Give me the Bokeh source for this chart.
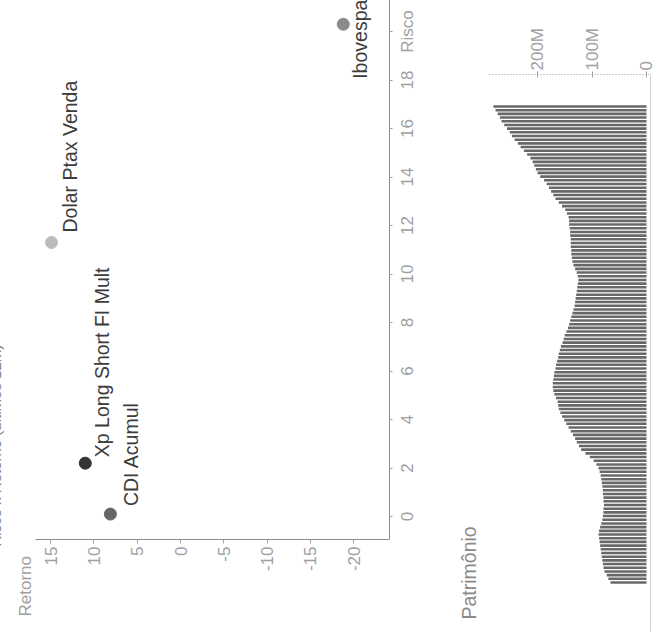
from bokeh.plotting import figure
from bokeh.models import Range1d, FixedTicker, Title, ColumnDataSource
from bokeh.embed import file_html
from bokeh.resources import INLINE
from bokeh.core.properties import value

# ---------------- data ----------------
names = ["Xp Long Short FI Mult", "CDI Acumul", "Dolar Ptax Venda", "Ibovespa"]
risco = [2.2, 0.1, 11.3, 20.3]
retorno = [11.0, 8.1, 14.9, -18.8]

risco_ticks = [0, 2, 4, 6, 8, 10, 12, 14, 16, 18, 20]
risco_tick_labels = ["0", "2", "4", "6", "8", "10", "12", "14", "16", "18", "Risco"]
retorno_ticks = [15, 10, 5, 0, -5, -10, -15, -20]
retorno_tick_labels = ["15", "10", "5", "0", "-5", "-10", "-15", "-20"]

patrimonio = [
    66, 70, 73, 77, 79, 80, 81, 82, 83, 84,
    85, 86, 87, 88, 87, 85, 83, 81, 80, 79,
    79, 78, 79, 79, 80, 80, 81, 82, 83, 84,
    86, 88, 92, 97, 104, 112, 120, 124, 128, 131,
    135, 139, 143, 147, 151, 155, 158, 161, 162, 163,
    166, 169, 171, 172, 172, 171, 170, 169, 167, 166,
    164, 162, 161, 159, 157, 154, 152, 150, 147, 144,
    142, 140, 138, 136, 134, 132, 131, 130, 129, 128,
    127, 126, 125, 126, 128, 131, 134, 136, 137, 138,
    138, 139, 139, 139, 140, 140, 141, 142, 142, 143,
    146, 149, 155, 161, 167, 171, 175, 179, 183, 188,
    195, 200, 203, 206, 209, 213, 219, 225, 231, 236,
    242, 247, 251, 256, 261, 266, 269, 273, 277, 281,
]
patr_ticks = [0, 100, 200]
patr_labels = ["0", "100M", "200M"]

# ---------------- styles ----------------
FONT = "Liberation Sans"
point_colors = ["#333333", "#666666", "#bbbbbb", "#8a8a8a"]
label_dx = [6, 8, 10, -15]
label_dy = [17, 21, 18, 17]
label_align = ["left", "left", "left", "center"]
TICK_COLOR = "#a0a0a0"
AXIS_COLOR = "#8c8c8c"


def rotated(dx):
    # the scanned page is turned a quarter turn counter-clockwise
    return {"position": "absolute", "left": "0px", "top": "0px",
            "transform-origin": "0 0",
            "transform": f"translate({dx}px, 632px) rotate(-90deg)"}


# ---------------- Risco x Retorno scatter ----------------
p1 = figure(width=640, height=640, title=None,
            x_range=Range1d(-0.948, 21.65), y_range=Range1d(-24.14, 16.75),
            output_backend="svg", toolbar_location=None,
            min_border_left=92, min_border_right=0,
            min_border_top=60, min_border_bottom=226,
            frame_align=False, styles=rotated(-25))
p1.outline_line_color = None
p1.xgrid.grid_line_color = None
p1.ygrid.grid_line_color = None
p1.border_fill_color = None
p1.background_fill_color = None

for ax in (p1.xaxis[0], p1.yaxis[0]):
    ax.axis_line_color = AXIS_COLOR
    ax.major_tick_line_color = TICK_COLOR
    ax.minor_tick_line_color = None
    ax.major_tick_in = 0
    ax.major_label_text_color = TICK_COLOR
    ax.major_label_text_font = FONT
    ax.major_label_text_font_size = "17px"

xa = p1.xaxis[0]
xa.ticker = FixedTicker(ticks=risco_ticks)
xa.major_label_overrides = dict(zip(risco_ticks, risco_tick_labels))
xa.major_tick_out = 3
xa.major_label_standoff = 5

ya = p1.yaxis[0]
ya.ticker = FixedTicker(ticks=retorno_ticks)
ya.major_label_overrides = dict(zip(retorno_ticks, retorno_tick_labels))
ya.major_tick_out = 4
ya.major_label_standoff = 3

src = ColumnDataSource(dict(name=names, risco=risco, retorno=retorno,
                            color=point_colors, dx=label_dx, dy=label_dy,
                            align=label_align))
p1.scatter(x="risco", y="retorno", size=12, fill_color="color",
           line_color="color", source=src)
p1.text(x="risco", y="retorno", text="name", source=src,
        x_offset="dx", y_offset="dy", text_align="align",
        text_baseline="alphabetic", text_font=value(FONT),
        text_font_size="19.5px", text_color="#3c3c3c")

p1.add_layout(Title(text="Retorno", align="left", offset=-77, standoff=2,
                    text_font=FONT, text_font_size="17px",
                    text_font_style="normal", text_color=TICK_COLOR), "above")
p1.add_layout(Title(text="Risco x Retorno (últimos 12m)", align="left",
                    offset=-7, standoff=18, text_font=FONT,
                    text_font_size="15px", text_font_style="normal",
                    text_color="#808080"), "above")

# ---------------- Patrimonio bars ----------------
idx = list(range(len(patrimonio)))
p2 = figure(width=640, height=640, title=None,
            x_range=Range1d(-13.28, 137.67), y_range=Range1d(-7.34, 304.6),
            y_axis_location="right",
            output_backend="svg", toolbar_location=None,
            min_border_left=0, min_border_right=83,
            min_border_top=40, min_border_bottom=430,
            frame_align=False, styles=rotated(440))
p2.outline_line_color = None
p2.xgrid.grid_line_color = None
p2.ygrid.grid_line_color = None
p2.border_fill_color = None
p2.background_fill_color = None

p2.vbar(x=idx, bottom=0, top=patrimonio, width=0.7,
        fill_color="#686868", line_color=None)

yb = p2.yaxis[0]
yb.ticker = FixedTicker(ticks=patr_ticks)
yb.major_label_overrides = dict(zip(patr_ticks, patr_labels))
yb.bounds = (-5, 292)
yb.axis_line_color = "#9a9a9a"
yb.axis_line_dash = "1 2"
yb.major_tick_line_color = "#a0a0a0"
yb.major_tick_in = 3
yb.major_tick_out = 3
yb.minor_tick_line_color = None
yb.major_label_standoff = 1
yb.major_label_text_color = TICK_COLOR
yb.major_label_text_font = FONT
yb.major_label_text_font_size = "17px"

xb = p2.xaxis[0]
xb.ticker = FixedTicker(ticks=[])
xb.axis_line_color = "#d0d0d0"
xb.major_tick_line_color = None
xb.minor_tick_line_color = None

p2.add_layout(Title(text="Patrimônio", align="left", offset=12, standoff=2,
                    text_font=FONT, text_font_size="19.5px",
                    text_font_style="normal", text_color="#8a8a8a"), "above")

open("out.html", "w").write(file_html([p1, p2], INLINE))
